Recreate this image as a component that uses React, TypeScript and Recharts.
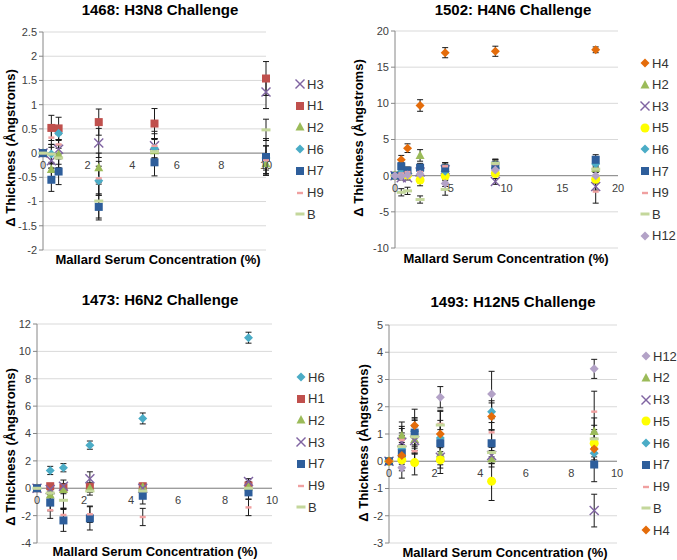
import React from "react";
import {
  ScatterChart,
  Scatter,
  XAxis,
  YAxis,
  CartesianGrid,
  ErrorBar,
  ReferenceLine,
} from "recharts";

const FONT = "'Liberation Sans', Arial, sans-serif";

// marker look per antigen
type Kind = "x" | "square" | "triangle" | "diamond" | "circle" | "dash" | "bar";
const LOOK: Record<string, { kind: Kind; color: string }> = {
  H1: { kind: "square", color: "#C0504D" },
  H2: { kind: "triangle", color: "#9BBB59" },
  H3: { kind: "x", color: "#8064A2" },
  H4: { kind: "diamond", color: "#E46C0A" },
  H5: { kind: "circle", color: "#FFFF00" },
  H6: { kind: "diamond", color: "#4BACC6" },
  H7: { kind: "square", color: "#2E5E9B" },
  H9: { kind: "dash", color: "#F0A0A0" },
  H12: { kind: "diamond", color: "#B3A2C7" },
  B: { kind: "bar", color: "#C4D79B" },
};

// 1468: H3N8 Challenge
const h3n8X = [0, 0.375, 0.7, 2.5, 5, 10];
const h3n8H3 = [0, -0.16, 0.08, 0.21, 0.15, 1.26];
const h3n8H3Err = [0, 0.15, 0.2, 0.3, 0.3, 0.34];
const h3n8H1 = [0, 0.52, 0.51, 0.64, 0.61, 1.54];
const h3n8H1Err = [0, 0.26, 0.23, 0.27, 0.31, 0.35];
const h3n8H2 = [0, -0.34, -0.03, -0.3, 0.05, -0.22];
const h3n8H2Err = [0, 0.15, 0.2, 0.3, 0.25, 0.2];
const h3n8H6 = [0, -0.02, 0.41, -0.57, 0.1, -0.1];
const h3n8H6Err = [0, 0.2, 0.15, 0.3, 0.2, 0.25];
const h3n8H7 = [0, -0.55, -0.38, -1.11, -0.19, -0.08];
const h3n8H7Err = [0, 0.24, 0.27, 0.27, 0.28, 0.38];
const h3n8H9 = [0, 0.32, 0.18, -0.52, 0.15, -0.15];
const h3n8H9Err = [0, 0.2, 0.2, 0.35, 0.25, 0.3];
const h3n8B = [0, -0.02, -0.1, -0.99, 0.03, 0.48];
const h3n8BErr = [0, 0.2, 0.2, 0.35, 0.25, 0.22];

// 1502: H4N6 Challenge
const h4n6X = [0, 0.5625, 1.125, 2.25, 4.5, 9, 18];
const h4n6H4 = [0, 2.2, 3.8, 9.7, 17.0, 17.2, 17.4];
const h4n6H4Err = [0, 0.6, 0.6, 0.8, 0.7, 0.7, 0.4];
const h4n6H2 = [0, 0.5, 0.3, 2.8, 1.0, 1.5, 1.0];
const h4n6H2Err = [0, 0.4, 0.4, 0.8, 0.6, 0.5, 0.5];
const h4n6H3 = [0, -0.3, -0.3, 0.5, 0.8, -0.8, -1.5];
const h4n6H3Err = [0, 0.3, 0.3, 0.5, 0.5, 0.4, 0.5];
const h4n6H5 = [0, 0.2, 0.1, -0.6, -0.05, 0.3, -0.5];
const h4n6H5Err = [0, 0.3, 0.3, 0.8, 0.5, 0.4, 0.5];
const h4n6H6 = [0, 0.5, 0.3, 0.8, 0.6, 1.0, 1.6];
const h4n6H6Err = [0, 0.3, 0.3, 0.4, 0.4, 0.4, 0.5];
const h4n6H7 = [0, 1.3, 0.7, 1.1, 1.0, 1.4, 2.2];
const h4n6H7Err = [0, 0.5, 0.5, 0.6, 0.8, 0.8, 0.7];
const h4n6H9 = [0, 0.3, 0.5, 0.5, 1.3, 1.6, -2.2];
const h4n6H9Err = [0, 0.3, 0.3, 0.4, 0.5, 0.6, 1.6];
const h4n6B = [0, -2.3, -2.1, -3.3, -1.9, 1.7, 0.9];
const h4n6BErr = [0, 0.5, 0.5, 0.5, 0.8, 0.6, 0.4];
const h4n6H12 = [0, -0.1, 0.1, 0.2, -1.1, 0.8, 0.0];
const h4n6H12Err = [0, 0.3, 0.3, 0.4, 0.4, 0.4, 0.5];

// 1473: H6N2 Challenge
const h6n2X = [0, 0.5625, 1.125, 2.25, 4.5, 9];
const h6n2H6 = [0, 1.3, 1.5, 3.15, 5.1, 11.0];
const h6n2H6Err = [0, 0.3, 0.3, 0.3, 0.4, 0.4];
const h6n2H1 = [0, 0.15, 0.05, 0.1, 0.15, 0.2];
const h6n2H1Err = [0, 0.2, 0.3, 0.3, 0.2, 0.3];
const h6n2H2 = [0, -0.5, -0.1, 0.0, 0.1, 0.1];
const h6n2H2Err = [0, 0.3, 0.3, 0.3, 0.2, 0.3];
const h6n2H3 = [0, -0.1, 0.15, 0.7, 0.0, 0.5];
const h6n2H3Err = [0, 0.3, 0.45, 0.5, 0.3, 0.2];
const h6n2H7 = [0, -1.05, -2.35, -2.2, -0.55, -0.3];
const h6n2H7Err = [0, 0.6, 0.8, 0.85, 0.6, 0.5];
const h6n2H9 = [0, -1.6, -1.95, -1.9, -2.1, -1.4];
const h6n2H9Err = [0, 0.6, 0.5, 0.6, 0.63, 0.6];
const h6n2B = [0, -0.35, -0.88, -0.2, -0.2, 0.0];
const h6n2BErr = [0, 0.3, 0.6, 0.3, 0.3, 0.3];

// 1493: H12N5 Challenge
const h12n5X = [0, 0.5625, 1.125, 2.25, 4.5, 9];
const h12n5H12 = [0, -0.24, 0.88, 2.35, 2.47, 3.39];
const h12n5H12Err = [0, 0.38, 0.4, 0.39, 0.83, 0.35];
const h12n5H2 = [0, 0.94, 0.8, 0.27, 0.09, 1.09];
const h12n5H2Err = [0, 0.5, 0.5, 0.4, 0.3, 0.5];
const h12n5H3 = [0, 0.7, 0.76, 0.15, 0.21, -1.81];
const h12n5H3Err = [0, 0.5, 0.5, 0.4, 0.3, 0.6];
const h12n5H5 = [0, 0.05, -0.05, 0.05, -0.73, 0.66];
const h12n5H5Err = [0, 0.4, 0.45, 0.5, 0.71, 0.5];
const h12n5H6 = [0, 0.45, 1.1, 0.85, 1.82, 0.29];
const h12n5H6Err = [0, 0.5, 0.5, 0.5, 0.4, 0.5];
const h12n5H7 = [0, 0.29, 1.05, 0.66, 0.66, -0.12];
const h12n5H7Err = [0, 0.4, 0.5, 0.5, 0.5, 0.63];
const h12n5H9 = [0, 0.78, 0.37, 1.37, 1.06, 1.82];
const h12n5H9Err = [0, 0.5, 0.5, 0.5, 0.5, 0.75];
const h12n5B = [0, 0.54, 0.9, 1.33, 0.32, 0.82];
const h12n5BErr = [0, 0.5, 0.6, 0.5, 0.4, 0.5];
const h12n5H4 = [0, 0.21, 1.31, 1.0, 1.64, 0.45];
const h12n5H4Err = [0, 0.4, 0.6, 0.5, 0.5, 0.4];

// axis ticks
const ticks0to10 = [0, 2, 4, 6, 8, 10];
const ticks0to20 = [0, 5, 10, 15, 20];
const h3n8YTicks = [-2, -1.5, -1, -0.5, 0, 0.5, 1, 1.5, 2, 2.5];
const h4n6YTicks = [-10, -5, 0, 5, 10, 15, 20];
const h6n2YTicks = [-4, -2, 0, 2, 4, 6, 8, 10, 12];
const h12n5YTicks = [-3, -2, -1, 0, 1, 2, 3, 4, 5];

type Series = { name: string; y: number[]; e: number[] };

function Marker({ kind, color, cx, cy }: { kind: Kind; color: string; cx: number; cy: number }) {
  switch (kind) {
    case "x":
      return (
        <g stroke={color} strokeWidth={1.4}>
          <line x1={cx - 4.5} y1={cy - 4.5} x2={cx + 4.5} y2={cy + 4.5} />
          <line x1={cx - 4.5} y1={cy + 4.5} x2={cx + 4.5} y2={cy - 4.5} />
        </g>
      );
    case "square":
      return <rect x={cx - 4} y={cy - 4} width={8} height={8} fill={color} />;
    case "triangle":
      return <polygon points={`${cx},${cy - 5} ${cx + 4.5},${cy + 3.5} ${cx - 4.5},${cy + 3.5}`} fill={color} />;
    case "diamond":
      return <polygon points={`${cx},${cy - 4.5} ${cx + 4.5},${cy} ${cx},${cy + 4.5} ${cx - 4.5},${cy}`} fill={color} />;
    case "circle":
      return <circle cx={cx} cy={cy} r={4.5} fill={color} />;
    case "dash":
      return <rect x={cx - 3} y={cy - 1.2} width={6} height={2.4} fill={color} />;
    default:
      return <rect x={cx - 4.5} y={cy - 1.5} width={9} height={3} fill={color} />;
  }
}

interface PanelProps {
  title: string;
  xs: number[];
  series: Series[];
  xDomain: [number, number];
  xTicks: number[];
  yDomain: [number, number];
  yTicks: number[];
  box: { left: number; top: number; width: number; height: number };
  plot: { l: number; t: number; r: number; b: number };
  titleAt: [number, number];
  xTitleAt: [number, number];
  yTitleAt: [number, number];
  legendAt: { x: number; y: number; step: number };
}

function Panel(props: PanelProps) {
  const { title, xs, series, xDomain, xTicks, yDomain, yTicks, box, plot, titleAt, xTitleAt, yTitleAt, legendAt } = props;
  const plotH = plot.b - plot.t;
  const zeroY = plot.t - box.top + (yDomain[1] / (yDomain[1] - yDomain[0])) * plotH;

  const xTick = (p: any) => (
    <text x={p.x} y={zeroY + 16} textAnchor='middle' fontSize={11} fill='#404040' fontFamily={FONT}>
      {p.payload.value}
    </text>
  );

  return (
    <>
      <div style={{ position: "absolute", left: box.left, top: box.top }}>
        <ScatterChart
          width={box.width}
          height={box.height}
          margin={{ top: plot.t - box.top, right: box.left + box.width - plot.r, bottom: 0, left: 0 }}
        >
          <CartesianGrid vertical={false} stroke='#d9d9d9' />
          <XAxis
            type='number'
            dataKey='x'
            domain={xDomain}
            ticks={xTicks}
            interval={0}
            height={box.top + box.height - plot.b}
            axisLine={false}
            tickLine={false}
            tick={xTick}
          />
          <YAxis
            type='number'
            dataKey='y'
            domain={yDomain}
            ticks={yTicks}
            interval={0}
            width={plot.l - box.left}
            axisLine={{ stroke: "#868686" }}
            tickLine={{ stroke: "#868686" }}
            tickSize={4}
            tick={{ fontSize: 11, fill: "#404040", fontFamily: FONT }}
          />
          <ReferenceLine y={0} stroke='#868686' />
          {series.map((s) => {
            const look = LOOK[s.name];
            const data = xs.map((x, i) => ({ x, y: s.y[i], e: s.e[i] }));
            return (
              <Scatter
                key={s.name}
                name={s.name}
                data={data}
                fill={look.color}
                isAnimationActive={false}
                shape={(p: any) => <Marker kind={look.kind} color={look.color} cx={p.cx} cy={p.cy} />}
              >
                <ErrorBar dataKey='e' direction='y' width={3} stroke='#1a1a1a' strokeWidth={1} />
              </Scatter>
            );
          })}
        </ScatterChart>
      </div>
      <div style={centered(titleAt, 15, true)}>{title}</div>
      <div style={centered(xTitleAt, 13, true)}>Mallard Serum Concentration (%)</div>
      <div style={{ ...centered(yTitleAt, 13, true), transform: "translate(-50%, -50%) rotate(-90deg)" }}>
        Δ Thickness (Ångstroms)
      </div>
      {series.map((s, i) => {
        const look = LOOK[s.name];
        return (
          <div
            key={s.name}
            style={{
              position: "absolute",
              left: legendAt.x - 6,
              top: legendAt.y + i * legendAt.step - 10,
              height: 20,
              display: "flex",
              alignItems: "center",
              fontFamily: FONT,
              fontSize: 13,
              color: "#333",
            }}
          >
            <svg width={13} height={12} style={{ display: "block" }}>
              <Marker kind={look.kind} color={look.color} cx={6} cy={6} />
            </svg>
            <span>{s.name}</span>
          </div>
        );
      })}
    </>
  );
}

function centered(at: [number, number], size: number, bold: boolean): React.CSSProperties {
  return {
    position: "absolute",
    left: at[0],
    top: at[1],
    transform: "translate(-50%, -50%)",
    whiteSpace: "nowrap",
    fontFamily: FONT,
    fontSize: size,
    fontWeight: bold ? "bold" : "normal",
    color: "#000",
  };
}

export default function App() {
  return (
    <div style={{ position: "absolute", left: 0, top: 0, width: 677, height: 560, background: "#fff", overflow: "hidden" }}>
      <Panel
        title='1468: H3N8 Challenge'
        xs={h3n8X}
        series={[
          { name: "H3", y: h3n8H3, e: h3n8H3Err },
          { name: "H1", y: h3n8H1, e: h3n8H1Err },
          { name: "H2", y: h3n8H2, e: h3n8H2Err },
          { name: "H6", y: h3n8H6, e: h3n8H6Err },
          { name: "H7", y: h3n8H7, e: h3n8H7Err },
          { name: "H9", y: h3n8H9, e: h3n8H9Err },
          { name: "B", y: h3n8B, e: h3n8BErr },
        ]}
        xDomain={[0, 10]}
        xTicks={ticks0to10}
        yDomain={[-2, 2.5]}
        yTicks={h3n8YTicks}
        box={{ left: 0, top: 0, width: 338, height: 280 }}
        plot={{ l: 43, t: 32, r: 266, b: 250 }}
        titleAt={[160, 8.5]}
        xTitleAt={[158, 259]}
        yTitleAt={[10, 148]}
        legendAt={{ x: 300, y: 84, step: 21.7 }}
      />
      <Panel
        title='1502: H4N6 Challenge'
        xs={h4n6X}
        series={[
          { name: "H4", y: h4n6H4, e: h4n6H4Err },
          { name: "H2", y: h4n6H2, e: h4n6H2Err },
          { name: "H3", y: h4n6H3, e: h4n6H3Err },
          { name: "H5", y: h4n6H5, e: h4n6H5Err },
          { name: "H6", y: h4n6H6, e: h4n6H6Err },
          { name: "H7", y: h4n6H7, e: h4n6H7Err },
          { name: "H9", y: h4n6H9, e: h4n6H9Err },
          { name: "B", y: h4n6B, e: h4n6BErr },
          { name: "H12", y: h4n6H12, e: h4n6H12Err },
        ]}
        xDomain={[0, 20]}
        xTicks={ticks0to20}
        yDomain={[-10, 20]}
        yTicks={h4n6YTicks}
        box={{ left: 338, top: 0, width: 339, height: 280 }}
        plot={{ l: 395, t: 31, r: 618, b: 248 }}
        titleAt={[513, 8.5]}
        xTitleAt={[506, 258]}
        yTitleAt={[358, 138]}
        legendAt={{ x: 645, y: 63, step: 21.6 }}
      />
      <Panel
        title='1473: H6N2 Challenge'
        xs={h6n2X}
        series={[
          { name: "H6", y: h6n2H6, e: h6n2H6Err },
          { name: "H1", y: h6n2H1, e: h6n2H1Err },
          { name: "H2", y: h6n2H2, e: h6n2H2Err },
          { name: "H3", y: h6n2H3, e: h6n2H3Err },
          { name: "H7", y: h6n2H7, e: h6n2H7Err },
          { name: "H9", y: h6n2H9, e: h6n2H9Err },
          { name: "B", y: h6n2B, e: h6n2BErr },
        ]}
        xDomain={[0, 10]}
        xTicks={ticks0to10}
        yDomain={[-4, 12]}
        yTicks={h6n2YTicks}
        box={{ left: 0, top: 280, width: 338, height: 280 }}
        plot={{ l: 37, t: 324, r: 272, b: 543 }}
        titleAt={[160, 299]}
        xTitleAt={[155, 551]}
        yTitleAt={[10, 447]}
        legendAt={{ x: 301, y: 377, step: 21.7 }}
      />
      <Panel
        title='1493: H12N5 Challenge'
        xs={h12n5X}
        series={[
          { name: "H12", y: h12n5H12, e: h12n5H12Err },
          { name: "H2", y: h12n5H2, e: h12n5H2Err },
          { name: "H3", y: h12n5H3, e: h12n5H3Err },
          { name: "H5", y: h12n5H5, e: h12n5H5Err },
          { name: "H6", y: h12n5H6, e: h12n5H6Err },
          { name: "H7", y: h12n5H7, e: h12n5H7Err },
          { name: "H9", y: h12n5H9, e: h12n5H9Err },
          { name: "B", y: h12n5B, e: h12n5BErr },
          { name: "H4", y: h12n5H4, e: h12n5H4Err },
        ]}
        xDomain={[0, 10]}
        xTicks={ticks0to10}
        yDomain={[-3, 5]}
        yTicks={h12n5YTicks}
        box={{ left: 338, top: 280, width: 339, height: 280 }}
        plot={{ l: 389, t: 325, r: 617, b: 543 }}
        titleAt={[513, 301]}
        xTitleAt={[505, 552]}
        yTitleAt={[363, 443]}
        legendAt={{ x: 646, y: 356, step: 21.75 }}
      />
    </div>
  );
}
